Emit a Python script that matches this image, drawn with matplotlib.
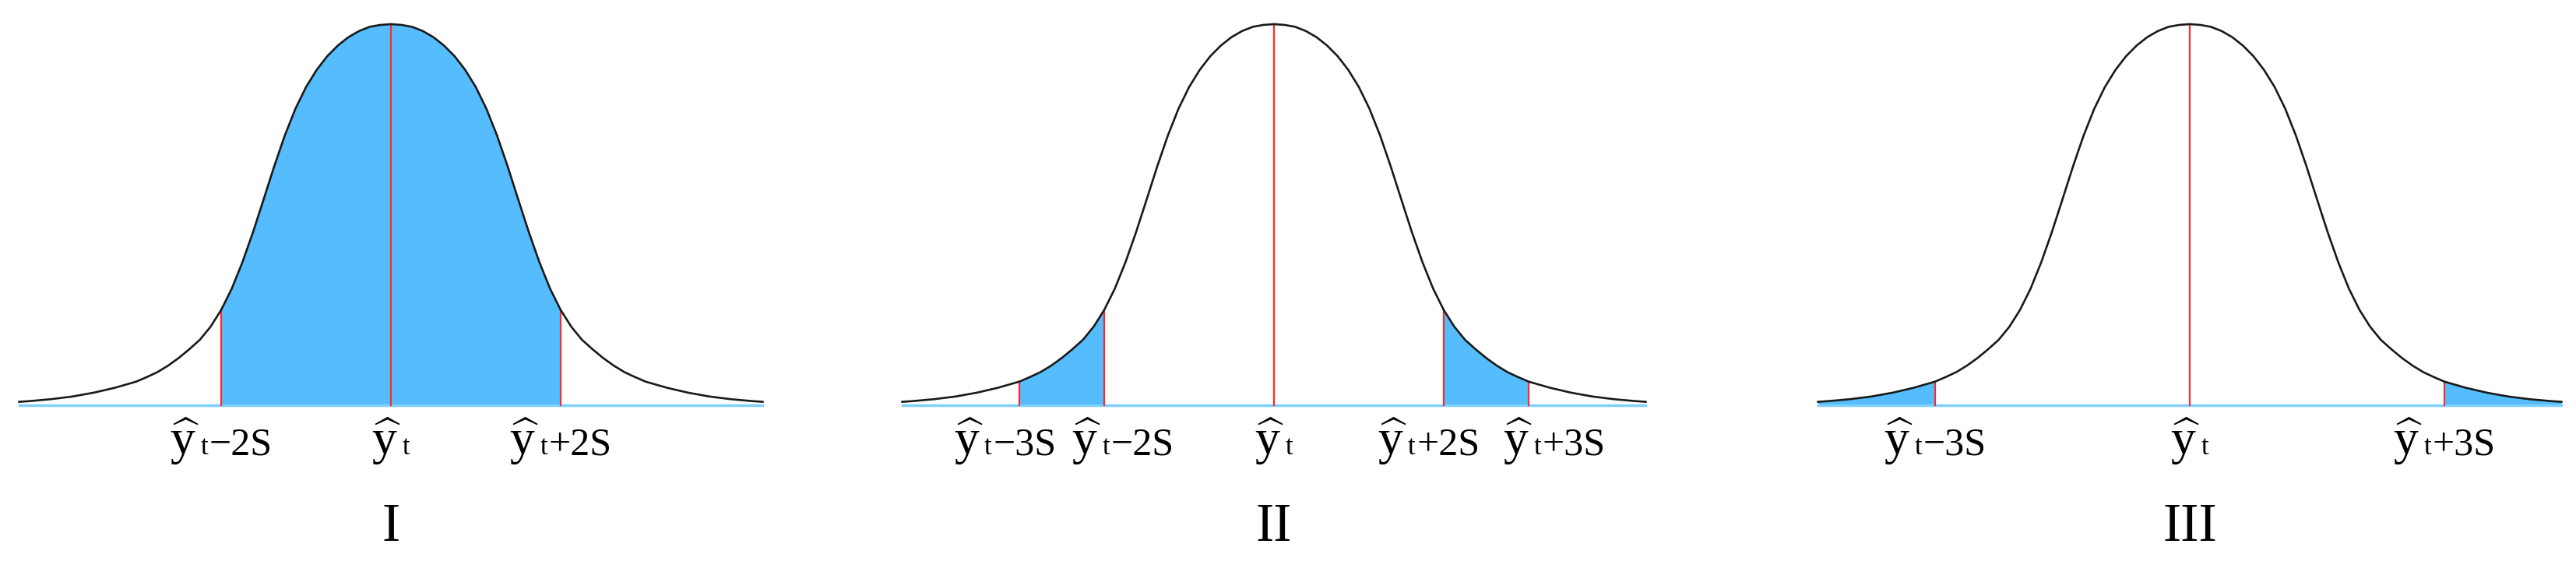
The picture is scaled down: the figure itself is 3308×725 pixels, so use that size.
import numpy as np
import matplotlib
matplotlib.use("Agg")
import matplotlib.pyplot as plt
from matplotlib.offsetbox import TextArea, HPacker, AnnotationBbox

# half of the bell curve: distance from centre in S, height / peak height
half_x = [0, 0.125, 0.25, 0.375, 0.5, 0.625, 0.75, 0.875, 1.0, 1.125, 1.25, 1.375, 1.5,
          1.625, 1.75, 1.875, 2.0, 2.125, 2.25, 2.375, 2.5, 2.625, 2.75, 2.875, 3.0,
          3.25, 3.5, 3.75, 4.0, 4.25, 4.38]
half_h = [1.0, 0.998, 0.993, 0.982, 0.966, 0.944, 0.916, 0.880, 0.835, 0.778, 0.708, 0.627, 0.540,
          0.454, 0.375, 0.306, 0.250, 0.206, 0.172, 0.147, 0.124, 0.104, 0.087, 0.074, 0.062,
          0.046, 0.033, 0.023, 0.016, 0.011, 0.009]

panel_names = ["I", "II", "III"]
shaded = [[(-2, 2)], [(-3, -2), (2, 3)], [(-4.38, -3), (3, 4.38)]]
marks = [[-2, 0, 2], [-3, -2, 0, 2, 3], [-3, 0, 3]]
mark_labels = [["\u22122S", "", "+2S"],
               ["\u22123S", "\u22122S", "", "+2S", "+3S"],
               ["\u22123S", "", "+3S"]]
# label shifts (in S) where the labels were nudged apart in the middle panel
label_shift = [[0, 0, 0], [-0.17, 0.22, 0, -0.18, 0.30], [0, 0, 0]]

W, H = 3308, 725
S_PX = 109
BASE_Y, PEAK_Y = 520, 31
centers = [502, 1636, 2812]
BLUE = "#55bdfd"
RED = "#ff2a2a"
SERIF = "Liberation Serif"

plt.rcParams["mathtext.fontset"] = "custom"
plt.rcParams["mathtext.rm"] = SERIF

hx = np.array(half_x)
hh = np.array(half_h)
x = np.concatenate([-hx[::-1], hx[1:]])
h = np.concatenate([hh[::-1], hh[1:]])


def height_at(v):
    return h[np.argmin(np.abs(x - v))]


def make_label(suffix):
    parts = [TextArea(r"$\widehat{\mathrm{y}}$", textprops=dict(fontsize=46, family=SERIF)),
             TextArea("t", textprops=dict(fontsize=25, family=SERIF))]
    if suffix:
        parts.append(TextArea(suffix, textprops=dict(fontsize=36, family=SERIF)))
    return HPacker(children=parts, align="baseline", pad=0, sep=1)


fig = plt.figure(figsize=(W / 100, H / 100), dpi=100)
unit = BASE_Y - PEAK_Y
for i, c in enumerate(centers):
    ax = fig.add_axes([(c - 4.6 * S_PX) / W, 0, 9.2 * S_PX / W, 1])
    ax.set_xlim(-4.6, 4.6)
    ax.set_ylim(-(H - BASE_Y) / unit, 1 + PEAK_Y / unit)
    ax.axis("off")

    for lo, hi in shaded[i]:
        m = (x >= lo - 1e-9) & (x <= hi + 1e-9)
        ax.fill_between(x[m], 0, h[m], color=BLUE, lw=0, zorder=1)
    ax.plot([x[0], x[-1]], [0, 0], color="#7fd0ff", lw=2.5, zorder=2)
    for k in marks[i]:
        ax.plot([k, k], [0, height_at(k)], color=RED, lw=1.6, zorder=3)
    ax.plot(x, h, color="#1a1a1a", lw=1.9, zorder=4, solid_joinstyle="round")

    for k, suf, dx in zip(marks[i], mark_labels[i], label_shift[i]):
        ab = AnnotationBbox(make_label(suf), (k + dx, 0), xybox=(0, -10),
                            xycoords="data", boxcoords="offset points",
                            box_alignment=(0.5, 1.0), frameon=False, pad=0)
        ax.add_artist(ab)

    ax.text(0, (BASE_Y - 694) / unit, panel_names[i], ha="center", va="baseline",
            fontsize=50, family=SERIF)

fig.savefig("out.png", dpi=100, facecolor="white")
